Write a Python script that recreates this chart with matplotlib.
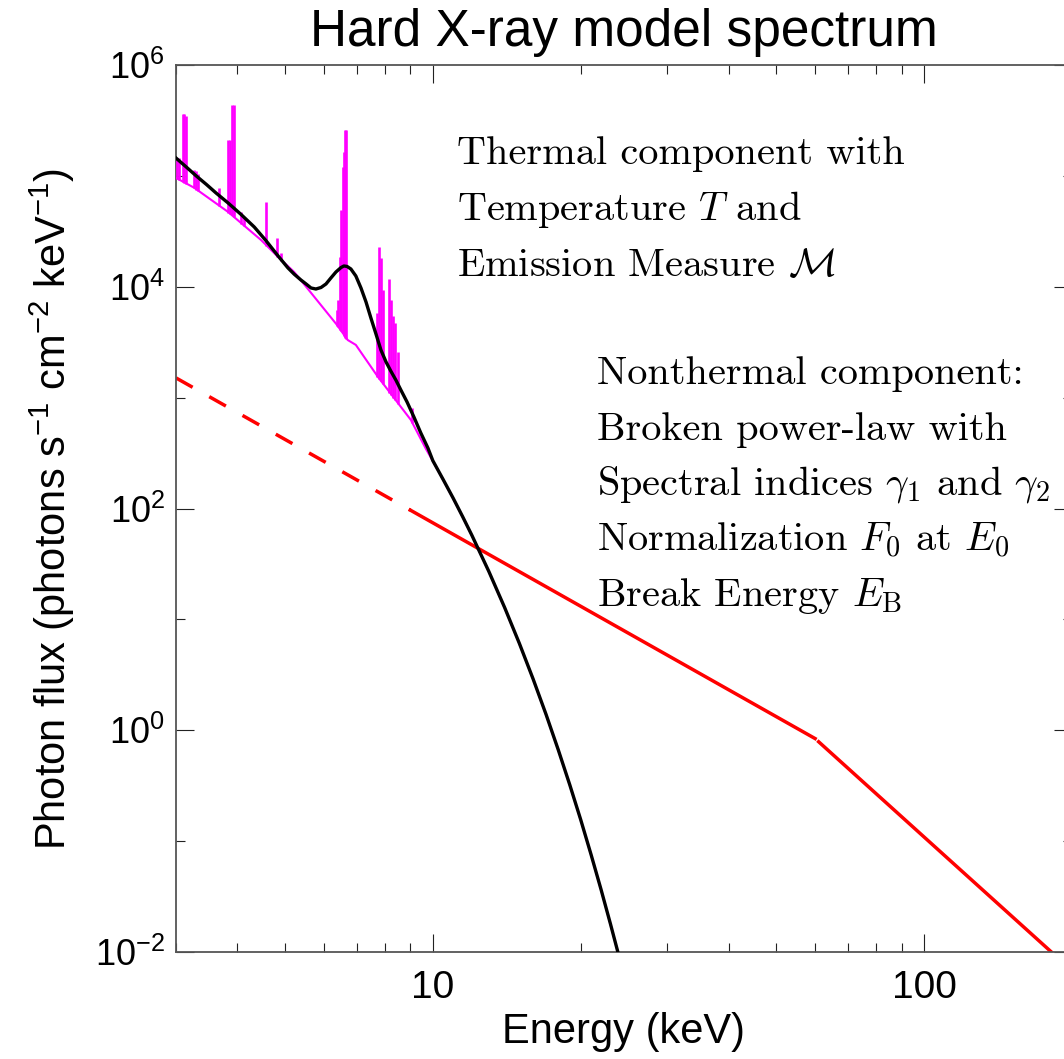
import numpy as np
import matplotlib.pyplot as plt
from matplotlib.ticker import FixedLocator, FixedFormatter, NullFormatter

plt.rcParams['font.family'] = ['Liberation Sans', 'DejaVu Sans']

# smoothed thermal model (black)
smooth_E = [3.00, 3.15, 3.30, 3.46, 3.62, 3.83, 4.07, 4.33, 4.58, 4.84,
            5.07, 5.22, 5.39, 5.52, 5.65, 5.78, 5.92, 6.06, 6.20, 6.35,
            6.50, 6.59, 6.69, 6.81, 6.97, 7.14, 7.31, 7.48, 7.66, 7.84,
            8.03, 8.21, 8.41, 8.61, 8.86, 9.15, 9.45, 9.77, 10.0, 10.5,
            11.0, 11.5, 12.0, 13.0, 14.0, 15.0, 16.0, 17.0, 18.0, 19.0,
            20.0, 21.0, 22.0, 23.0, 24.0, 25.0]
smooth_F = [1.45e5, 1.20e5, 9.98e4, 8.37e4, 7.01e4, 5.70e4, 4.49e4, 3.46e4, 2.59e4, 1.90e4,
            1.48e4, 1.30e4, 1.15e4, 1.06e4, 9.75e3, 9.55e3, 9.85e3, 1.06e4, 1.20e4, 1.36e4,
            1.49e4, 1.54e4, 1.525e4, 1.447e4, 1.252e4, 9.75e3, 7.30e3, 5.23e3, 3.75e3, 2.69e3,
            2.10e3, 1.74e3, 1.44e3, 1.17e3, 915, 670, 481, 352, 270, 182,
            124, 84.4, 57.7, 27.1, 12.8, 6.08, 2.90, 1.39, 0.667, 0.322,
            0.156, 0.0753, 0.0366, 0.0178, 0.0087, 0.0042]

# thermal continuum (magenta)
cont_E = [3.00, 3.27, 3.83, 4.47, 4.84, 5.22, 6.38, 6.71, 6.97, 7.73, 9.02, 9.68,
          10.0, 10.5, 11.0, 11.5, 12.0, 13.0, 14.0, 15.0, 16.0, 17.0, 18.0, 19.0,
          20.0, 21.0, 22.0, 23.0, 24.0, 25.0]
cont_F = [9.6e4, 7.8e4, 4.73e4, 2.64e4, 1.86e4, 1.36e4, 4.53e3, 3.31e3, 2.99e3, 1.54e3, 630, 345,
          268, 181, 123, 84.0, 57.4, 27.0, 12.7, 6.05, 2.89, 1.38, 0.665, 0.321,
          0.155, 0.075, 0.0365, 0.0177, 0.0087, 0.0042]

# emission lines on top of the continuum
line_E = [3.01, 3.04, 3.10, 3.12, 3.14, 3.27, 3.30, 3.33, 3.67, 3.83, 3.87, 3.90, 3.93,
          4.07, 4.13, 4.58, 4.82, 4.91,
          6.38, 6.41, 6.46, 6.49, 6.55, 6.58, 6.62, 6.66,
          7.69, 7.77, 7.84, 7.91, 8.14, 8.22, 8.30, 8.38, 8.49, 9.06]
line_base = [9.4e4, 9.2e4, 8.8e4, 8.6e4, 8.5e4, 7.7e4, 7.5e4, 7.3e4, 5.3e4, 4.6e4, 4.5e4, 4.4e4, 4.3e4,
             3.7e4, 3.5e4, 2.35e4, 1.85e4, 1.7e4,
             4.4e3, 4.3e3, 4.1e3, 4.0e3, 3.8e3, 3.6e3, 3.45e3, 3.35e3,
             1.55e3, 1.48e3, 1.4e3, 1.33e3, 1.1e3, 1.05e3, 1.0e3, 950, 870, 590]
line_peak = [1.39e5, 1.45e5, 3.6e5, 3.6e5, 3.5e5, 1.13e5, 1.10e5, 1.05e5, 7.8e4, 2.1e5, 2.1e5, 4.4e5, 4.4e5,
             4.7e4, 4.3e4, 5.8e4, 2.75e4, 2.0e4,
             6.2e3, 7.6e3, 1.86e4, 4.9e4, 1.2e5, 1.64e5, 2.6e5, 2.6e5,
             5.8e3, 2.29e4, 1.82e4, 9.4e3, 1.18e4, 7.6e3, 5.4e3, 4.7e3, 2.6e3, 807]

# broken power law (red)
pl_low_E = [3.0, 9.0]
pl_low_F = [1507, 96.7]
pl_mid_E = [9.0, 60.0]
pl_mid_F = [96.7, 0.842]
pl_high_E = [61.0, 200.0]
pl_high_F = [0.788, 0.0068]

fig = plt.figure(figsize=(10.64, 10.59), dpi=100)
ax = fig.add_axes([0.1654, 0.101, 0.8421, 0.8376])

ax.plot(pl_low_E, pl_low_F, color='#ff0000', lw=2.5, dashes=(5.5, 5.5), zorder=2)
ax.plot(pl_mid_E, pl_mid_F, color='#ff0000', lw=2.5, zorder=2)
ax.plot(pl_high_E, pl_high_F, color='#ff0000', lw=2.5, zorder=2)

ax.plot(cont_E, cont_F, color='#ff00ff', lw=1.5, zorder=3)
ax.vlines(line_E, line_base, line_peak, color='#ff00ff', lw=1.9, zorder=3)

ax.plot(smooth_E, smooth_F, color='black', lw=2.4, zorder=4)

ax.set_xscale('log')
ax.set_yscale('log')
ax.set_xlim(3, 200)
ax.set_ylim(1e-2, 1e6)

ax.xaxis.set_major_locator(FixedLocator([10, 100]))
ax.xaxis.set_major_formatter(FixedFormatter(['10', '100']))
ax.xaxis.set_minor_locator(FixedLocator([3, 4, 5, 6, 7, 8, 9, 20, 30, 40, 50, 60, 70, 80, 90, 200]))
ax.xaxis.set_minor_formatter(NullFormatter())

y_major = [1e-2, 1e0, 1e2, 1e4, 1e6]
y_labels = [r'$\mathregular{10^{-2}}$', r'$\mathregular{10^{0}}$', r'$\mathregular{10^{2}}$',
            r'$\mathregular{10^{4}}$', r'$\mathregular{10^{6}}$']
ax.yaxis.set_major_locator(FixedLocator(y_major))
ax.yaxis.set_major_formatter(FixedFormatter(y_labels))
ax.yaxis.set_minor_locator(FixedLocator([1e-1, 1e1, 1e3, 1e5]))
ax.yaxis.set_minor_formatter(NullFormatter())

ax.tick_params(which='both', direction='in', top=True, right=True, width=0.8, color='#222222')
ax.tick_params(which='major', length=13)
ax.tick_params(which='minor', length=6.5)
ax.tick_params(axis='x', which='major', pad=13, labelsize=28)
ax.tick_params(axis='y', which='major', pad=8, labelsize=26)
for s in ax.spines.values():
    s.set_color('#555555')
    s.set_linewidth(1.3)

ax.set_xlabel('Energy (keV)', fontsize=30, labelpad=4)
ax.set_ylabel(r'Photon flux (photons s$^{\mathregular{-1}}$ cm$^{\mathregular{-2}}$ keV$^{\mathregular{-1}}$)',
              fontsize=30, labelpad=13)
ax.set_title('Hard X-ray model spectrum', fontsize=37, pad=14)

# annotation text (Computer Modern)
W, H = 1064.0, 1059.0
thermal_lines = ['Thermal component with', r'Temperature $T$ and', r'Emission Measure $\mathcal{M}$']
for i, s in enumerate(thermal_lines):
    fig.text(457 / W, 1 - (164 + 56 * i) / H, s, fontsize=29, family='cmr10',
             math_fontfamily='cm', va='baseline', ha='left')

nonthermal_lines = ['Nonthermal component:', 'Broken power-law with',
                    r'Spectral indices $\gamma_1$ and $\gamma_2$',
                    r'Normalization $F_0$ at $E_0$', r'Break Energy $E_\mathrm{B}$']
for i, s in enumerate(nonthermal_lines):
    fig.text(597 / W, 1 - (384 + 55.5 * i) / H, s, fontsize=29, family='cmr10',
             math_fontfamily='cm', va='baseline', ha='left')

fig.savefig('out.png', dpi=100)
